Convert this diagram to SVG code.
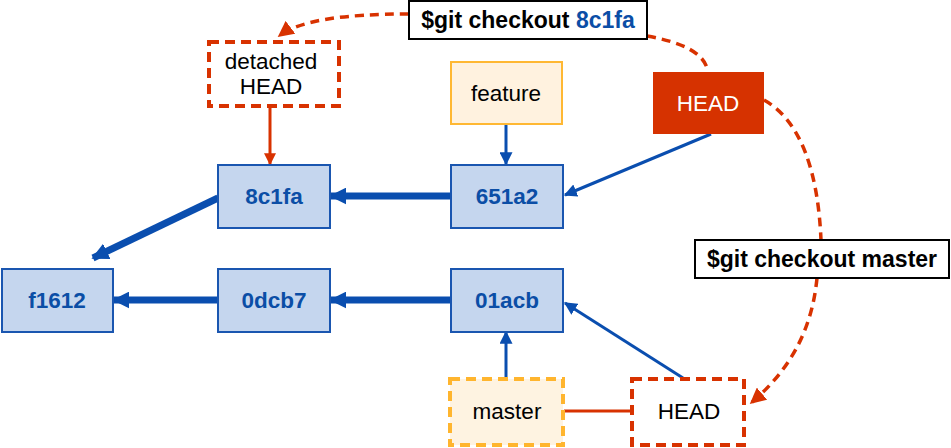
<svg xmlns="http://www.w3.org/2000/svg" width="951" height="448" viewBox="0 0 951 448">
<defs>
<style>
text{font-family:"Liberation Sans",Arial,sans-serif;font-size:22.5px;text-anchor:middle}
.commit rect{fill:#c5d6ee;stroke:#1a56b0;stroke-width:2}
.commit text{fill:#0b4ea6;font-weight:bold}
.cmd rect{fill:#fff;stroke:#000;stroke-width:2}
.cmd text{font-weight:bold;font-size:23px;fill:#000}
.thick{stroke:#0a4eaf;stroke-width:7;fill:none}
.thin{stroke:#0a4eaf;stroke-width:3;fill:none}
.red{stroke:#d83200;stroke-width:3;fill:none}
.reddash{stroke:#d83200;stroke-width:3.5;fill:none;stroke-dasharray:9 6}
</style>
<marker id="ab" markerUnits="userSpaceOnUse" viewBox="0 0 10 10" refX="9" refY="5" markerWidth="17" markerHeight="17" orient="auto"><path d="M0,0L10,5L0,10z" fill="#0a4eaf"/></marker>
<marker id="abs" markerUnits="userSpaceOnUse" viewBox="0 0 10 10" refX="9" refY="5" markerWidth="13" markerHeight="13" orient="auto"><path d="M0,0L10,5L0,10z" fill="#0a4eaf"/></marker>
<marker id="ar" markerUnits="userSpaceOnUse" viewBox="0 0 10 10" refX="9" refY="5" markerWidth="12" markerHeight="12" orient="auto"><path d="M0,0L10,5L0,10z" fill="#d83200"/></marker>
<marker id="ard" markerUnits="userSpaceOnUse" viewBox="0 0 10 10" refX="9" refY="5" markerWidth="16" markerHeight="16" orient="auto"><path d="M0,0L10,5L0,10z" fill="#d83200"/></marker>
</defs>
<g id="connectors">
<path class="thick" d="M451,196H331" marker-end="url(#ab)"/>
<path class="thick" d="M451,300H331" marker-end="url(#ab)"/>
<path class="thick" d="M218,300H114" marker-end="url(#ab)"/>
<path class="thick" d="M218,198L93,258" marker-end="url(#ab)"/>
<path class="thin" d="M506,124V164" marker-end="url(#abs)"/>
<path class="thin" d="M506,378V332" marker-end="url(#abs)"/>
<path class="thin" d="M711,134L565,195" marker-end="url(#abs)"/>
<path class="thin" d="M683,378L565,303" marker-end="url(#abs)"/>
<path class="red" d="M270,107V164" marker-end="url(#ar)"/>
<path class="red" d="M564,411H631"/>
<path class="reddash" d="M409,14C345,14 300,20 279,36" marker-end="url(#ard)"/>
<path class="reddash" d="M647,36C680,42 705,52 708,72"/>
<path class="reddash" d="M764,100C800,120 818,170 821,240"/>
<path class="reddash" d="M817,278C812,330 790,370 751,403" marker-end="url(#ard)"/>
</g>
<g id="cmd-8c1fa" class="cmd"><rect x="409" y="1" width="238" height="38"/><text x="528" y="28">$git checkout <tspan fill="#0b4ea6">8c1fa</tspan></text></g>
<g id="cmd-master" class="cmd"><rect x="695" y="240" width="254" height="38"/><text x="822" y="267">$git checkout master</text></g>
<g id="detached-head"><rect x="209" y="42" width="130" height="64" fill="#fff" stroke="#d83200" stroke-width="4" stroke-dasharray="10 6"/><text x="271" y="69">detached</text><text x="271" y="94">HEAD</text></g>
<g id="feature"><rect x="451" y="62" width="111" height="62" fill="#fff2df" stroke="#ffb833" stroke-width="2"/><text x="506" y="101">feature</text></g>
<g id="head-top"><rect x="653" y="72" width="111" height="62" fill="#d63200"/><text x="708" y="111" fill="#fff">HEAD</text></g>
<g id="c651a2" class="commit"><rect x="451" y="165" width="112" height="63"/><text x="507" y="204">651a2</text></g>
<g id="c8c1fa" class="commit"><rect x="218" y="165" width="112" height="63"/><text x="274" y="204">8c1fa</text></g>
<g id="cf1612" class="commit"><rect x="2" y="269" width="111" height="63"/><text x="57" y="308">f1612</text></g>
<g id="c0dcb7" class="commit"><rect x="218" y="269" width="112" height="63"/><text x="274" y="308">0dcb7</text></g>
<g id="c01acb" class="commit"><rect x="451" y="269" width="112" height="63"/><text x="507" y="308">01acb</text></g>
<g id="master"><rect x="450" y="379" width="113" height="66" fill="#fef3e1" stroke="#ffb52e" stroke-width="4" stroke-dasharray="10 6"/><text x="507" y="419">master</text></g>
<g id="head-bottom"><rect x="632" y="379" width="112" height="66" fill="#fff" stroke="#d83200" stroke-width="4" stroke-dasharray="10 6"/><text x="689" y="419">HEAD</text></g>
</svg>
